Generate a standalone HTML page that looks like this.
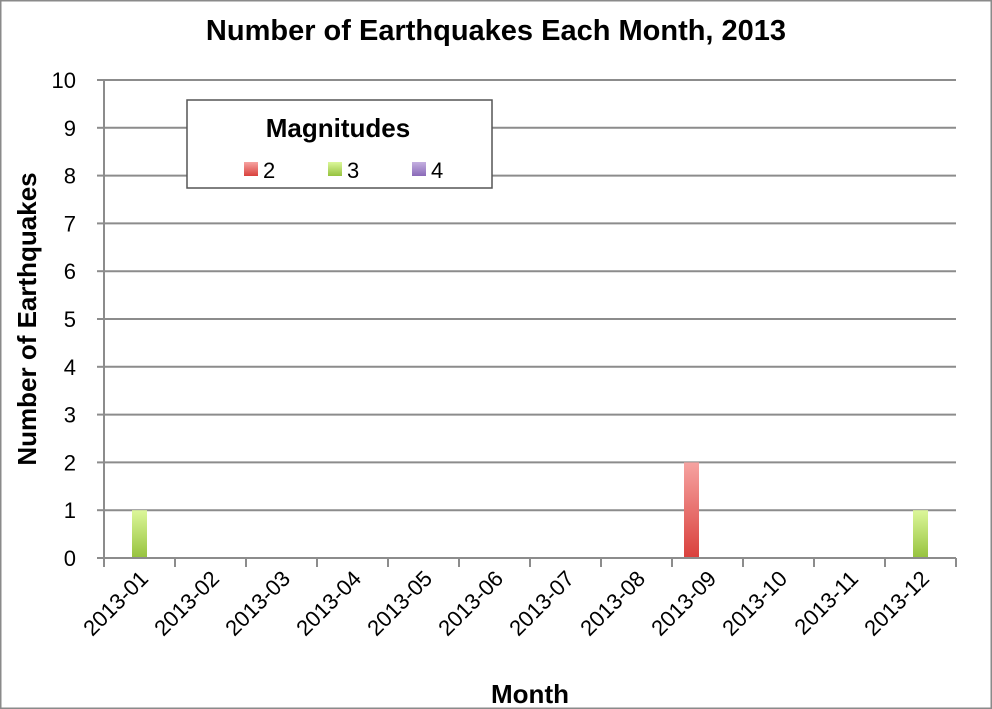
<!DOCTYPE html>
<html><head><meta charset="utf-8"><style>
html,body{margin:0;padding:0;background:#fff}
svg{display:block;font-family:"Liberation Sans",Arial,sans-serif}
</style></head><body>
<svg id="chart" width="992" height="709" viewBox="0 0 992 709">
<defs>
<linearGradient id="gRed" x1="0" y1="0" x2="0" y2="1"><stop offset="0" stop-color="#f6a3a1"/><stop offset="1" stop-color="#d9403c"/></linearGradient>
<linearGradient id="gGreen" x1="0" y1="0" x2="0" y2="1"><stop offset="0" stop-color="#dcf79a"/><stop offset="1" stop-color="#96c23e"/></linearGradient>
<linearGradient id="gPurple" x1="0" y1="0" x2="0" y2="1"><stop offset="0" stop-color="#c4b0e0"/><stop offset="1" stop-color="#8a6ab8"/></linearGradient>
</defs>
<rect x="0.5" y="0.5" width="991" height="708" fill="#fff" stroke="#8a8a8a" stroke-width="2"/>
<text x="496" y="40" text-anchor="middle" font-size="29" font-weight="bold" fill="#000">Number of Earthquakes Each Month, 2013</text>
<g id="grid"></g>
<g id="bars"></g>
<g id="axes"></g>
<text transform="translate(36,319) rotate(-90)" text-anchor="middle" font-size="26" font-weight="bold">Number of Earthquakes</text>
<text x="530" y="703" text-anchor="middle" font-size="26" font-weight="bold">Month</text>
<g>
<rect x="187" y="100" width="305" height="88" fill="#fff" stroke="#555" stroke-width="1.5"/>
<text x="338" y="137" text-anchor="middle" font-size="26" font-weight="bold">Magnitudes</text>
<g><rect x="244" y="162" width="14" height="14" fill="url(#gRed)"/><text x="263" y="178" font-size="22">2</text></g>
<g><rect x="328" y="162" width="14" height="14" fill="url(#gGreen)"/><text x="347" y="178" font-size="22">3</text></g>
<g><rect x="412" y="162" width="14" height="14" fill="url(#gPurple)"/><text x="431" y="178" font-size="22">4</text></g>
</g>
</svg>
<script>
const categories = ["2013-01","2013-02","2013-03","2013-04","2013-05","2013-06","2013-07","2013-08","2013-09","2013-10","2013-11","2013-12"];
const mag2 = [0,0,0,0,0,0,0,0,2,0,0,0];
const mag3 = [1,0,0,0,0,0,0,0,0,0,0,1];
const mag4 = [0,0,0,0,0,0,0,0,0,0,0,0];
const yTicks = [0,1,2,3,4,5,6,7,8,9,10];

const NS = "http://www.w3.org/2000/svg";
const X0 = 104, X1 = 956, Y0 = 558, Y1 = 80, YMAX = 10;
const band = (X1 - X0) / categories.length;
const yScale = v => Y0 - (v / YMAX) * (Y0 - Y1);
const xCenter = i => X0 + band * (i + 0.5);
function mk(tag, attrs, parent) { const e = document.createElementNS(NS, tag); for (const k in attrs) e.setAttribute(k, attrs[k]); parent.appendChild(e); return e; }

const grid = document.getElementById("grid"), axes = document.getElementById("axes"), barsG = document.getElementById("bars");
yTicks.forEach(t => {
  const y = yScale(t);
  if (t > 0) {
    const l = mk("line", {x1: X0, x2: X1, y1: y, y2: y, stroke: "#8c8c8c", "stroke-width": 2}, grid);
    
    
  }
  const tk = mk("line", {x1: X0 - 7, x2: X0, y1: y, y2: y, stroke: "#8c8c8c", "stroke-width": 2}, axes);
  
  
  const tx = mk("text", {x: X0 - 28, y: y + 8, "text-anchor": "end", "font-size": 22}, axes);
  tx.textContent = t;
  
  
});
const ya = mk("line", {x1: X0, x2: X0, y1: Y1, y2: Y0 + 8, stroke: "#8c8c8c", "stroke-width": 2}, axes);


const xa = mk("line", {x1: X0, x2: X1, y1: Y0, y2: Y0, stroke: "#8c8c8c", "stroke-width": 2}, axes);


for (let i = 0; i <= categories.length; i++) {
  const x = X0 + band * i;
  const tk = mk("line", {x1: x, x2: x, y1: Y0, y2: Y0 + 9, stroke: "#8c8c8c", "stroke-width": 2}, axes);
  
  
}
categories.forEach((c, i) => {
  const x = xCenter(i) + 10, y = Y0 + 22;
  const tx = mk("text", {x: x, y: y, "text-anchor": "end", "font-size": 22, transform: `rotate(-45 ${x} ${y})`}, axes);
  tx.textContent = c;
  
  
});
const series = [[mag2, "url(#gRed)", -16, "bar-mag2"], [mag3, "url(#gGreen)", 0, "bar-mag3"], [mag4, "url(#gPurple)", 16, "bar-mag4"]];
const bw = 15;
series.forEach(([vals, fill, off, name]) => {
  vals.forEach((v, i) => {
    if (v <= 0) return;
    const x = xCenter(i) + off - bw / 2;
    const r = mk("rect", {x: x, y: yScale(v), width: bw, height: Y0 - yScale(v), fill: fill}, barsG);
    
    
  });
});
</script>
</body></html>
